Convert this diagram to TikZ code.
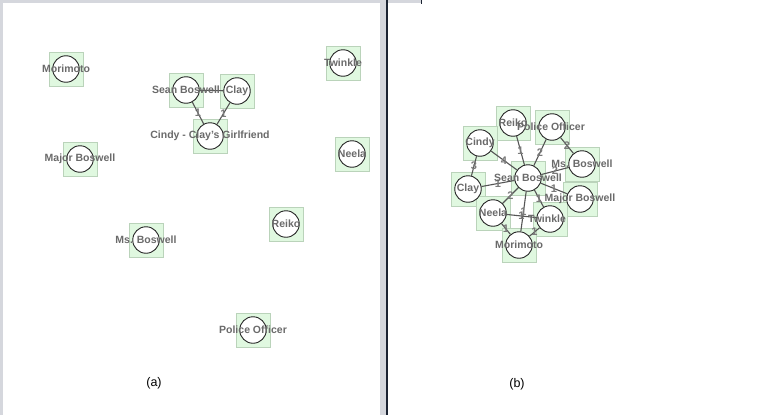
\documentclass[tikz,border=0pt]{standalone}
\usepackage{fontspec}
\setmainfont{Liberation Sans}
\usetikzlibrary{positioning}
\pgfdeclarelayer{back}
\pgfdeclarelayer{bg}
\pgfdeclarelayer{edgelayer}
\pgfdeclarelayer{fg}
\pgfsetlayers{back,bg,edgelayer,main,fg}
\definecolor{boxfill}{HTML}{E0F8E0}
\definecolor{boxline}{HTML}{BAD3BA}
\definecolor{lblgray}{HTML}{6A6A6A}
\definecolor{elblgray}{HTML}{7A7A7A}
\definecolor{edgegray}{HTML}{555555}
\definecolor{framegray}{HTML}{D5D7DD}
\definecolor{framedark}{HTML}{1C2433}
\tikzset{
  vbox/.style={rectangle, minimum size=34pt, inner sep=0pt, fill=boxfill, draw=boxline, line width=0.9pt},
  vcirc/.style={circle, minimum size=26.5pt, inner sep=0pt, fill=white, draw=black!85, line width=0.9pt},
  vlabel/.style={inner sep=0pt, text=lblgray, font=\fontsize{10.5}{12}\selectfont\bfseries},
  elabel/.style={inner sep=0pt, text=elblgray, font=\fontsize{11}{12}\selectfont\bfseries},
  edge/.style={draw=edgegray, line width=1.1pt},
  caption/.style={inner sep=0pt, font=\fontsize{12.5}{14}\selectfont}
}
\begin{document}
\begin{tikzpicture}[x=1pt,y=-1pt]
\useasboundingbox (0,0) rectangle (758,415);
\begin{pgfonlayer}{back}
\fill[white] (0,0) rectangle (758,415);
% window frame
\fill[framegray] (0,0) rectangle (3,415);
\fill[framegray] (0,0) rectangle (421,3);
\fill[framegray] (380,0) rectangle (386,415);
\fill[framedark] (386,0) rectangle (387.5,415);
\fill[framedark] (420.5,0) rectangle (422,3.5);
\end{pgfonlayer}

% ---------- panel (a) ----------
\node[vcirc] (aMor) at (66,69) {};
\node[vcirc] (aMaj) at (80,159) {};
\node[vcirc] (aSean) at (186,90) {};
\node[vcirc] (aClay) at (237,91) {};
\node[vcirc] (aCindy) at (210,136) {};
\node[vcirc] (aTw) at (343,63) {};
\node[vcirc] (aNee) at (352,154) {};
\node[vcirc] (aRei) at (286,224) {};
\node[vcirc] (aMs) at (146,240) {};
\node[vcirc] (aPol) at (253,330) {};

% ---------- panel (b) ----------
\node[vcirc] (bSean) at (528,178) {};
\node[vcirc] (bRei) at (513,123) {};
\node[vcirc] (bPol) at (552,127) {};
\node[vcirc] (bMs) at (582,164) {};
\node[vcirc] (bMaj) at (580,199) {};
\node[vcirc] (bCin) at (480,143) {};
\node[vcirc] (bClay) at (468,189) {};
\node[vcirc] (bNee) at (493,213) {};
\node[vcirc] (bTw) at (550,219) {};
\node[vcirc] (bMor) at (519,245) {};

\begin{pgfonlayer}{bg}
\foreach \n in {aMor,aMaj,aSean,aClay,aCindy,aTw,aNee,aRei,aMs,aPol,
                bSean,bRei,bPol,bMs,bMaj,bCin,bClay,bNee,bTw,bMor}
  \node[vbox] (\n Box) at (\n.center) {};
\end{pgfonlayer}

\begin{pgfonlayer}{edgelayer}
% panel (a)
\draw[edge] (aSean) -- (aClay);
\draw[edge] (aSean) -- node[elabel] (eA1) {1} (aCindy);
\draw[edge] (aClay) -- node[elabel] (eA2) {1} (aCindy);
% panel (b)
\draw[edge] (bSean) -- node[elabel] (eB1) {1} (bRei);
\draw[edge] (bSean) -- node[elabel] (eB2) {2} (bPol);
\draw[edge] (bSean) -- node[elabel] (eB3) {2} (bMs);
\draw[edge] (bSean) -- node[elabel] (eB4) {1} (bMaj);
\draw[edge] (bSean) -- node[elabel] (eB5) {1} (bTw);
\draw[edge] (bSean) -- node[elabel] (eB6) {1} (bMor);
\draw[edge] (bSean) -- node[elabel] (eB7) {2} (bNee);
\draw[edge] (bSean) -- node[elabel] (eB8) {1} (bClay);
\draw[edge] (bSean) -- node[elabel] (eB9) {4} (bCin);
\draw[edge] (bCin) -- node[elabel] (eB10) {3} (bClay);
\draw[edge] (bPol) -- node[elabel] (eB11) {2} (bMs);
\draw[edge] (bNee) -- node[elabel] (eB12) {1} (bTw);
\draw[edge] (bNee) -- node[elabel] (eB13) {1} (bMor);
\draw[edge] (bTw) -- node[elabel] (eB14) {1} (bMor);
\end{pgfonlayer}

\begin{pgfonlayer}{fg}
% labels (a)
\node[vlabel] (aMorL) at (aMor) {Morimoto};
\node[vlabel] (aMajL) at (aMaj) {Major Boswell};
\node[vlabel] (aSeanL) at (aSean) {Sean Boswell};
\node[vlabel] (aClayL) at (aClay) {Clay};
\node[vlabel] (aCindyL) at (aCindy) {Cindy - Clay's Girlfriend};
\node[vlabel] (aTwL) at (aTw) {Twinkle};
\node[vlabel] (aNeeL) at (aNee) {Neela};
\node[vlabel] (aReiL) at (aRei) {Reiko};
\node[vlabel] (aMsL) at (aMs) {Ms. Boswell};
\node[vlabel] (aPolL) at (aPol) {Police Officer};
% labels (b)
\node[vlabel] (bSeanL) at (bSean) {Sean Boswell};
\node[vlabel] (bReiL) at (bRei) {Reiko};
\node[vlabel] (bPolL) at ([xshift=-1pt]bPol.center) {Police Officer};
\node[vlabel] (bMsL) at (bMs) {Ms. Boswell};
\node[vlabel] (bMajL) at (bMaj) {Major Boswell};
\node[vlabel] (bCinL) at (bCin) {Cindy};
\node[vlabel] (bClayL) at (bClay) {Clay};
\node[vlabel] (bNeeL) at (bNee) {Neela};
\node[vlabel] (bTwL) at ([xshift=-3pt]bTw.center) {Twinkle};
\node[vlabel] (bMorL) at (bMor) {Morimoto};
\end{pgfonlayer}

\node[caption] (capA) at (154,383) {(a)};
\node[caption] (capB) at (517,384) {(b)};
\end{tikzpicture}
\end{document}
